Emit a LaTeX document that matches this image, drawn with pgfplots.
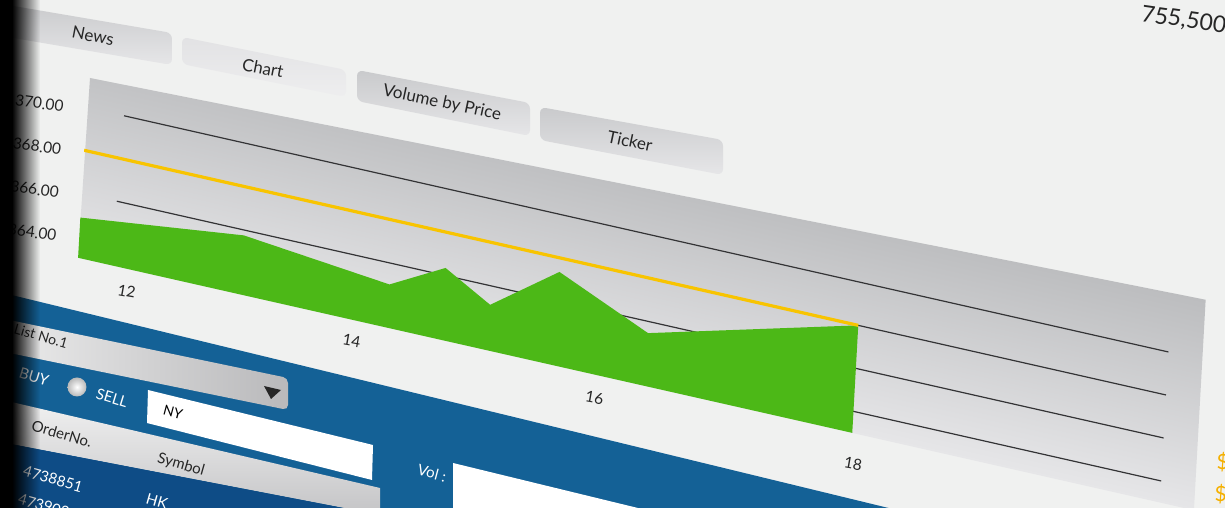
\documentclass[border=0pt]{standalone}
\usepackage{pgfplots}
\pgfplotsset{compat=1.18}
\usepackage{fontspec}
\setmainfont{Lato}
\usetikzlibrary{calc,backgrounds,fadings}
\definecolor{bgc}{HTML}{F0F1F0}
\definecolor{grn}{HTML}{4CB817}
\definecolor{ylw}{HTML}{F8C400}
\definecolor{gridc}{HTML}{333335}
\definecolor{panTop}{HTML}{BBBCBE}
\definecolor{panBot}{HTML}{E6E6E8}
\definecolor{txt}{HTML}{262626}
\definecolor{blu}{HTML}{146196}
\definecolor{dblu}{HTML}{0E4C86}
\definecolor{tabA}{HTML}{C9CACC}
\definecolor{tabB}{HTML}{E6E6E8}
\definecolor{chtA}{HTML}{E2E2E4}
\definecolor{chtB}{HTML}{EEEEEF}
\definecolor{ddA}{HTML}{EDEDED}
\definecolor{ddB}{HTML}{B9B9BB}
\definecolor{hdA}{HTML}{F2F2F2}
\definecolor{hdB}{HTML}{C4C4C6}
\definecolor{org}{HTML}{F5B000}

\begin{document}
\begin{tikzpicture}
\begin{axis}[
  x={(121.15pt,-27.4pt)}, y={(1.2pt,21.5pt)},
  xmin=11.66, xmax=20.87, ymin=363, ymax=371.8,
  axis line style={draw=none},
  major tick length=0pt,
  no markers,
  xtick={12,14,16,18},
  xticklabel={\ifcase\ticknum\hspace*{12pt}\raisebox{3pt}{12}\or\raisebox{5pt}{14}\hspace*{24pt}\or\raisebox{3pt}{16}\hspace*{22pt}\or\hspace*{14pt}\raisebox{-5pt}{18}\fi},
  ytick={364,366,368,370}, yticklabels={364.00,366.00,368.00,370.00},
  ticklabel style={font=\fontsize{15.5}{18}\selectfont, text=txt},
  xticklabel style={anchor=base, yshift=-31.6pt, rotate=-10},
  yticklabel style={anchor=center, xshift=-47pt, yshift=4pt, rotate=-8},
  /pgf/number format/assume math mode=true,
]
% horizontal reference lines of the chart
\addplot[gridc, line width=1.2pt] coordinates {(11.97,370) (20.59,370)};
\addplot[gridc, line width=1.2pt] coordinates {(11.97,368) (20.59,368)};
\addplot[gridc, line width=1.2pt] coordinates {(11.95,366) (20.59,366)};
\addplot[gridc, line width=1.2pt] coordinates {(11.95,364) (20.59,364)};
% price area
\addplot[fill=grn, draw=none] coordinates {
  (11.66,363) (11.66,364.87) (13.00,365.75) (14.21,365.01) (14.66,366.35)
  (15.04,365.12) (15.59,367.35) (16.34,365.46) (18.05,368.00) (18.05,363)
};
% reference price line
\addplot[ylw, line width=3.2pt] coordinates {(11.66,368) (18.05,368)};
\coordinate (P0) at (axis cs:15,363);
\end{axis}

\coordinate (TL) at ($(P0)+(-482.75pt,349.3pt)$);
\pgfresetboundingbox
\path[use as bounding box] (TL) rectangle ++(1225pt,-508pt);

\begin{scope}[on background layer]
  \fill[bgc] (TL) rectangle ++(1225pt,-508pt);
  \begin{scope}
    \clip[shift={(TL)}, x=1pt, y=-1pt] (90,78) -- (1217,302) -- (1195,522) -- (78,257.8) -- cycle;
    \begin{scope}[transform canvas={shift={(TL)},cm={1115.8,-252.4,12,215,(78.1pt,-257.8pt)}}]
      \shade[top color=panTop, bottom color=panBot] (0,0) rectangle (1pt,1pt);
    \end{scope}
  \end{scope}
\end{scope}

\begin{scope}[shift={(TL)}, x=1pt, y=-1pt]
  % tabs
  \shade[top color=tabA, bottom color=tabB, rounded corners=6pt] (-10,2) -- (172,33) -- (172,65) -- (-10,34) -- cycle;
  \node[rotate=-11, text=txt, font=\fontsize{17}{20}\selectfont] at (93,36) {News};
  \shade[top color=chtA, bottom color=chtB, rounded corners=6pt] (182,37) -- (346,70) -- (346,97) -- (182,64) -- cycle;
  \node[rotate=-11, text=txt, font=\fontsize{17}{20}\selectfont] at (263,68) {Chart};
  \shade[top color=tabA, bottom color=tabB, rounded corners=6pt] (357,70) -- (530,103) -- (530,136) -- (357,101) -- cycle;
  \node[rotate=-12, text=txt, font=\fontsize{17}{20}\selectfont] at (442,103) {Volume by Price};
  \shade[top color=tabA, bottom color=tabB, rounded corners=6pt] (540,107) -- (723,140) -- (723,175) -- (540,140) -- cycle;
  \node[rotate=-12, text=txt, font=\fontsize{17}{20}\selectfont] at (630,141) {Ticker};
  % top-right value
  \node[rotate=-8, anchor=west, text=txt, font=\fontsize{23}{26}\selectfont] at (1138,14) {755,500};
  % order panel
  \fill[blu] (-5,291) -- (905,512) -- (-5,512) -- cycle;
  \shade[left color=ddA, right color=ddB, rounded corners=5pt] (-10,316) -- (288,378) -- (288,410) -- (-10,349) -- cycle;
  \node[rotate=-16, text=txt, font=\fontsize{14}{16}\selectfont] at (41,336) {List No.1};
  \fill[txt] (264,386) -- (281,390) -- (271,399) -- cycle;
  \fill[green!55!gray] (-2,367) circle (8);
  \node[rotate=-17, text=white, font=\fontsize{15}{17}\selectfont] at (34,377) {BUY};
  \shade[inner color=white, outer color=gray!55] (77,387) circle (9.5);
  \node[rotate=-17, text=white, font=\fontsize{15}{17}\selectfont] at (112,398) {SELL};
  \shade[top color=hdA, bottom color=hdB] (-10,397) -- (380,488) -- (380,515) -- (-10,440) -- cycle;
  \fill[dblu] (-10,440) -- (380,515) -- (380,530) -- (-10,530) -- cycle;
  \fill[white] (148,390) -- (373,445) -- (372,480) -- (147,423) -- cycle;
  \node[rotate=-15, text=black, font=\fontsize{14}{16}\selectfont] at (173,412) {NY};
  \node[rotate=-16, text=txt, font=\fontsize{15}{17}\selectfont] at (62,434) {OrderNo.};
  \node[rotate=-16, text=txt, font=\fontsize{15}{17}\selectfont] at (181,465) {Symbol};
  \node[rotate=-16, text=white, font=\fontsize{15}{17}\selectfont] at (53,479) {4738851};
  \node[rotate=-16, text=white, font=\fontsize{15}{17}\selectfont] at (48,507) {4739021};
  \node[rotate=-16, text=white, font=\fontsize{15}{17}\selectfont] at (157,501) {HK};
  \node[rotate=-15, text=white, font=\fontsize{15}{17}\selectfont] at (432,473) {Vol :};
  \fill[white] (453,463) -- (905,573) -- (453,573) -- cycle;
  % orange values at right edge
  \node[anchor=west, text=org, font=\fontsize{21}{24}\selectfont] at (1213,462) {\$};
  \node[anchor=west, text=org, font=\fontsize{21}{24}\selectfont] at (1211,494) {\$};
  % left shadow
  \fill[black] (-2,-2) rectangle (12,512);
  \fill[black, path fading=east] (12,-2) rectangle (40,512);
\end{scope}
\end{tikzpicture}
\end{document}
